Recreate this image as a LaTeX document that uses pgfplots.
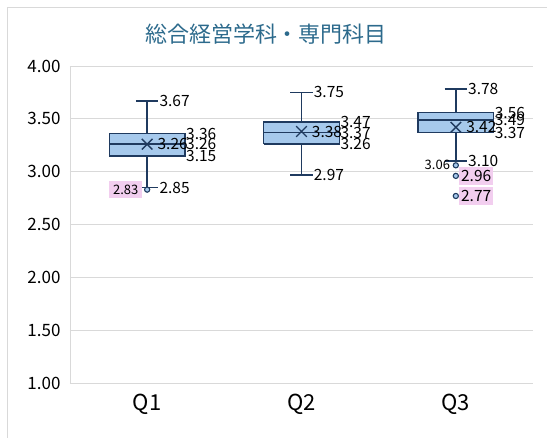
\documentclass[border=0pt]{standalone}
\usepackage{fontspec}
\setmainfont{Noto Sans CJK JP}
\usepackage{pgfplots}
\pgfplotsset{compat=1.18}
\definecolor{boxfill}{HTML}{A6C9EC}
\definecolor{boxline}{HTML}{1F3A5F}
\definecolor{gridc}{HTML}{D9D9D9}
\definecolor{titlec}{HTML}{2C6A8C}
\definecolor{pinkbg}{HTML}{F2CEEF}
\pgfplotsset{
  lbl/.style={draw=none, mark=none, nodes near coords, point meta=y,
    nodes near coords style={anchor=west, text=black, inner sep=1pt,
      font=\fontsize{15.5}{17}\selectfont,
      /pgf/number format/fixed, /pgf/number format/precision=2,
      /pgf/number format/fixed zerofill}},
  ln/.style={draw=boxline, line width=1.5pt, mark=none, unbounded coords=jump},
  bx/.style={draw=boxline, fill=boxfill, line width=1.5pt, mark=none},
}
\begin{document}
\begin{tikzpicture}
\draw[gridc, line width=0.8pt] (7pt,-20pt) -- (7pt,431pt) -- (600pt,431pt);
\node[text=titlec, font=\fontsize{22}{26}\selectfont] at (266pt,404pt) {総合経営学科・専門科目};
\begin{axis}[
  at={(70pt,55pt)}, anchor=south west,
  scale only axis, width=463pt, height=317pt,
  xmin=-0.5, xmax=2.5, ymin=1, ymax=4,
  ytick={1,1.5,2,2.5,3,3.5,4},
  xtick={0,1,2}, xticklabels={Q1,Q2,Q3},
  /pgf/number format/assume math mode=true,
  yticklabel style={/pgf/number format/fixed,/pgf/number format/precision=2,
    /pgf/number format/fixed zerofill, font=\fontsize{17}{19}\selectfont, xshift=-6pt},
  xticklabel style={font=\fontsize{22}{24}\selectfont, yshift=-8pt},
  major tick length=0pt,
  axis line style={draw=none},
  ymajorgrids, grid style={gridc, line width=0.8pt},
  clip=false,
]
\draw[gridc, line width=0.8pt] (rel axis cs:0,0) -- (rel axis cs:0,1);
% whiskers: Q1 (min 2.85, q1 3.15, q3 3.36, max 3.67)
\addplot[ln] coordinates {(0,3.36) (0,3.67) (0,nan) (-0.0725,3.67) (0.0725,3.67) (0,nan)
  (0,3.15) (0,2.85) (0,nan) (-0.0725,2.85) (0.0725,2.85)};
% Q2 (min 2.97, q1 3.26, q3 3.47, max 3.75)
\addplot[ln] coordinates {(1,3.47) (1,3.75) (1,nan) (0.9275,3.75) (1.0725,3.75) (1,nan)
  (1,3.26) (1,2.97) (1,nan) (0.9275,2.97) (1.0725,2.97)};
% Q3 (min 3.10, q1 3.37, q3 3.56, max 3.78)
\addplot[ln] coordinates {(2,3.56) (2,3.78) (2,nan) (1.9275,3.78) (2.0725,3.78) (2,nan)
  (2,3.37) (2,3.10) (2,nan) (1.9275,3.10) (2.0725,3.10)};
% boxes
\addplot[bx] coordinates {(-0.245,3.15) (0.245,3.15) (0.245,3.36) (-0.245,3.36) (-0.245,3.15)};
\addplot[bx] coordinates {(0.755,3.26) (1.245,3.26) (1.245,3.47) (0.755,3.47) (0.755,3.26)};
\addplot[bx] coordinates {(1.755,3.37) (2.245,3.37) (2.245,3.56) (1.755,3.56) (1.755,3.37)};
% medians
\addplot[ln] coordinates {(-0.245,3.26) (0.245,3.26) (0,nan) (0.755,3.37) (1.245,3.37) (1,nan) (1.755,3.49) (2.245,3.49)};
% outliers
\addplot[only marks, mark=*, mark size=2.6pt, mark options={fill=boxfill, draw=boxline, line width=1.1pt}]
  coordinates {(0,2.83) (2,3.06) (2,2.96) (2,2.77)};
% means
\addplot[only marks, mark=x, mark size=7.5pt, mark options={draw=boxline, line width=1.4pt}]
  coordinates {(0,3.26) (1,3.38) (2,3.42)};
% labels at whisker caps
\addplot[lbl] coordinates {(0.0725,3.67) (0.0725,2.85) (1.0725,3.75) (1.0725,2.97) (2.0725,3.78) (2.0725,3.10)};
% labels at box edge
\addplot[lbl] coordinates {(0.245,3.36) (0.245,3.26) (0.245,3.15) (1.245,3.47) (1.245,3.37) (1.245,3.26) (2.245,3.56) (2.245,3.49) (2.245,3.37)};
% mean labels
\addplot[lbl] coordinates {(0.06,3.26) (1.06,3.38) (2.06,3.42)};
% outlier labels
\addplot[lbl, nodes near coords style={anchor=east, fill=pinkbg, inner xsep=4pt, inner ysep=4pt, font=\fontsize{13}{15}\selectfont}]
  coordinates {(-0.03,2.83)};
\addplot[lbl, nodes near coords style={anchor=east, font=\fontsize{13}{15}\selectfont}]
  coordinates {(1.97,3.06)};
\addplot[lbl, nodes near coords style={anchor=west, fill=pinkbg, inner xsep=2pt, inner ysep=3.5pt, minimum width=33pt}]
  coordinates {(2.02,2.96) (2.02,2.77)};
\end{axis}
\pgfresetboundingbox
\path[use as bounding box] (0pt,0pt) rectangle (547pt,438pt);
\end{tikzpicture}
\end{document}
